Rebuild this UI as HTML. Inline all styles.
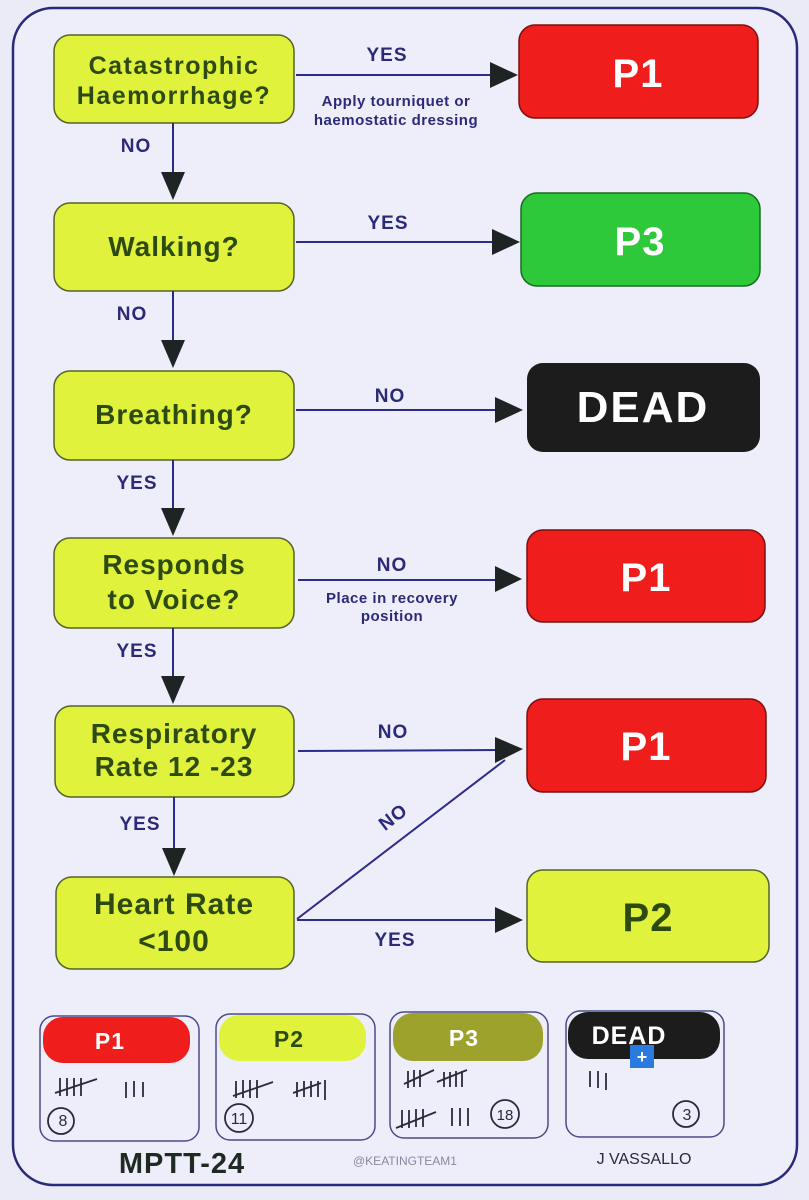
<!DOCTYPE html>
<html><head><meta charset="utf-8"><style>
html,body{margin:0;padding:0;background:#ebebf7;}
svg{display:block}
text{font-family:"Liberation Sans",sans-serif;font-weight:bold}
.q{fill:#2d4a12;font-size:28px;text-anchor:middle;letter-spacing:1px}
.l{fill:#2a2a78;font-size:19px;text-anchor:middle;letter-spacing:1px}
.s{fill:#2a2a78;font-size:15px;text-anchor:middle;letter-spacing:0.5px}
.w{fill:#ffffff;font-size:40px;text-anchor:middle;letter-spacing:1px}
.y{fill:#e0f23c;stroke:#55632a;stroke-width:1.5}
.ln{stroke:#2b2b8a;stroke-width:2;fill:none}
.ah{fill:#1e2424}
</style></head><body>
<svg width="809" height="1200" viewBox="0 0 809 1200">
<rect width="809" height="1200" fill="#ebebf7"/>
<rect x="13" y="8" width="784" height="1177" rx="40" fill="#eeeefb" stroke="#2a2a7a" stroke-width="2.5"/>

<rect class="y" x="54" y="35" width="240" height="88" rx="16"/>
<text class="q" x="174" y="74" style="font-size:25px;letter-spacing:1.5px">Catastrophic</text>
<text class="q" x="174" y="104" style="font-size:25px;letter-spacing:1.5px">Haemorrhage?</text>
<rect class="y" x="54" y="203" width="240" height="88" rx="16"/>
<text class="q" x="174" y="256">Walking?</text>
<rect class="y" x="54" y="371" width="240" height="89" rx="16"/>
<text class="q" x="174" y="424">Breathing?</text>
<rect class="y" x="54" y="538" width="240" height="90" rx="16"/>
<text class="q" x="174" y="574">Responds</text>
<text class="q" x="174" y="609">to Voice?</text>
<rect class="y" x="55" y="706" width="239" height="91" rx="16"/>
<text class="q" x="174" y="743">Respiratory</text>
<text class="q" x="174" y="776">Rate 12 -23</text>
<rect class="y" x="56" y="877" width="238" height="92" rx="16"/>
<text class="q" x="174" y="914" style="font-size:30px">Heart Rate</text>
<text class="q" x="174" y="951" style="font-size:30px">&lt;100</text>

<rect x="519" y="25" width="239" height="93" rx="16" fill="#f01d1d" stroke="#7a1010" stroke-width="1.5"/>
<text class="w" x="638" y="87">P1</text>
<rect x="521" y="193" width="239" height="93" rx="16" fill="#2ec93a" stroke="#1a6a22" stroke-width="1.5"/>
<text class="w" x="640" y="255">P3</text>
<rect x="527" y="363" width="233" height="89" rx="16" fill="#1c1c1c"/>
<text class="w" x="643" y="422" style="font-size:44px;letter-spacing:2px">DEAD</text>
<rect x="527" y="530" width="238" height="92" rx="16" fill="#f01d1d" stroke="#7a1010" stroke-width="1.5"/>
<text class="w" x="646" y="591">P1</text>
<rect x="527" y="699" width="239" height="93" rx="16" fill="#f01d1d" stroke="#7a1010" stroke-width="1.5"/>
<text class="w" x="646" y="760">P1</text>
<rect x="527" y="870" width="242" height="92" rx="16" fill="#e0f23c" stroke="#55632a" stroke-width="1.5"/>
<text class="w" x="648" y="931" style="fill:#2d4a12">P2</text>

<g>
<line class="ln" x1="173" y1="123" x2="173" y2="180"/><polygon class="ah" points="161,172 185,172 173,200"/>
<line class="ln" x1="173" y1="291" x2="173" y2="348"/><polygon class="ah" points="161,340 185,340 173,368"/>
<line class="ln" x1="173" y1="460" x2="173" y2="515"/><polygon class="ah" points="161,508 185,508 173,536"/>
<line class="ln" x1="173" y1="628" x2="173" y2="683"/><polygon class="ah" points="161,676 185,676 173,704"/>
<line class="ln" x1="174" y1="797" x2="174" y2="855"/><polygon class="ah" points="162,848 186,848 174,876"/>
</g>
<text class="l" x="136" y="152">NO</text>
<text class="l" x="132" y="320">NO</text>
<text class="l" x="137" y="489">YES</text>
<text class="l" x="137" y="657">YES</text>
<text class="l" x="140" y="830">YES</text>

<line class="ln" x1="296" y1="75" x2="495" y2="75"/><polygon class="ah" points="490,62 490,88 518,75"/>
<text class="l" x="387" y="61">YES</text>
<text class="s" x="396" y="106">Apply tourniquet or</text>
<text class="s" x="396" y="125">haemostatic dressing</text>
<line class="ln" x1="296" y1="242" x2="497" y2="242"/><polygon class="ah" points="492,229 492,255 520,242"/>
<text class="l" x="388" y="229">YES</text>
<line class="ln" x1="296" y1="410" x2="500" y2="410"/><polygon class="ah" points="495,397 495,423 523,410"/>
<text class="l" x="390" y="402">NO</text>
<line class="ln" x1="298" y1="580" x2="500" y2="580"/><polygon class="ah" points="495,566 495,592 522,579"/>
<text class="l" x="392" y="571">NO</text>
<text class="s" x="392" y="603">Place in recovery</text>
<text class="s" x="392" y="621">position</text>
<line class="ln" x1="298" y1="751" x2="500" y2="750"/><polygon class="ah" points="495,737 495,763 523,749"/>
<text class="l" x="393" y="738">NO</text>
<line class="ln" x1="297" y1="919" x2="505" y2="760"/>
<text class="l" x="397" y="822" transform="rotate(-38 397 822)">NO</text>
<line class="ln" x1="297" y1="920" x2="500" y2="920"/><polygon class="ah" points="495,907 495,933 523,920"/>
<text class="l" x="395" y="946">YES</text>

<g fill="none" stroke="#4a4a8a" stroke-width="1.5">
<rect x="40" y="1016" width="159" height="125" rx="14"/>
<rect x="216" y="1014" width="159" height="126" rx="14"/>
<rect x="390" y="1012" width="158" height="126" rx="14"/>
<rect x="566" y="1011" width="158" height="126" rx="14"/>
</g>
<rect x="43" y="1017" width="147" height="46" rx="20" fill="#f01d1d"/>
<text class="w" x="110" y="1049" style="font-size:23px">P1</text>
<rect x="219" y="1015" width="147" height="46" rx="20" fill="#e0f23c"/>
<text class="w" x="289" y="1047" style="font-size:23px;fill:#2d4a12">P2</text>
<rect x="393" y="1013" width="150" height="48" rx="20" fill="#9da22c"/>
<text class="w" x="464" y="1046" style="font-size:23px">P3</text>
<rect x="568" y="1012" width="152" height="47" rx="20" fill="#1c1c1c"/>
<text class="w" x="629" y="1044" style="font-size:25px">DEAD</text>
<rect x="630" y="1045" width="24" height="23" fill="#2a7ae0"/>
<text x="642" y="1063" text-anchor="middle" fill="#fff" style="font-size:18px">+</text>

<g stroke="#2a2a3a" stroke-width="1.8" fill="none">
<path d="M60 1078v18M67 1078v18M74 1078v18M81 1078v18M55 1093l42-14M126 1082v16M134 1081v16M143 1082v15"/>
<circle cx="61" cy="1121" r="13"/>
<path d="M236 1081v17M243 1080v18M250 1080v18M257 1080v18M233 1096l40-14M297 1082v15M304 1081v16M311 1081v16M318 1081v16M293 1093l28-10M325 1080v20"/>
<circle cx="239" cy="1118" r="14"/>
<path d="M408 1071v17M414 1070v17M420 1070v17M404 1084l30-14M444 1072v15M450 1072v15M456 1071v16M462 1071v16M437 1082l30-12M402 1110v18M409 1110v18M416 1109v18M423 1109v18M396 1128l40-16M452 1108v18M460 1108v18M468 1108v18"/>
<circle cx="505" cy="1114" r="14"/>
<path d="M590 1071v16M598 1071v17M606 1073v17"/>
<circle cx="686" cy="1114" r="13"/>
</g>
<text x="63" y="1126" text-anchor="middle" fill="#2a2a3a" style="font-size:16px;font-weight:normal">8</text>
<text x="239" y="1124" text-anchor="middle" fill="#2a2a3a" style="font-size:16px;font-weight:normal">11</text>
<text x="505" y="1120" text-anchor="middle" fill="#2a2a3a" style="font-size:15px;font-weight:normal">18</text>
<text x="687" y="1120" text-anchor="middle" fill="#2a2a3a" style="font-size:16px;font-weight:normal">3</text>

<text x="182" y="1173" text-anchor="middle" fill="#1e2a22" style="font-size:29px;letter-spacing:1px">MPTT-24</text>
<text x="405" y="1165" text-anchor="middle" fill="#8888a0" style="font-size:12px;font-weight:normal">@KEATINGTEAM1</text>
<text x="644" y="1164" text-anchor="middle" fill="#2a2a3a" style="font-size:16px;font-weight:normal">J VASSALLO</text>
</svg>
</body></html>
